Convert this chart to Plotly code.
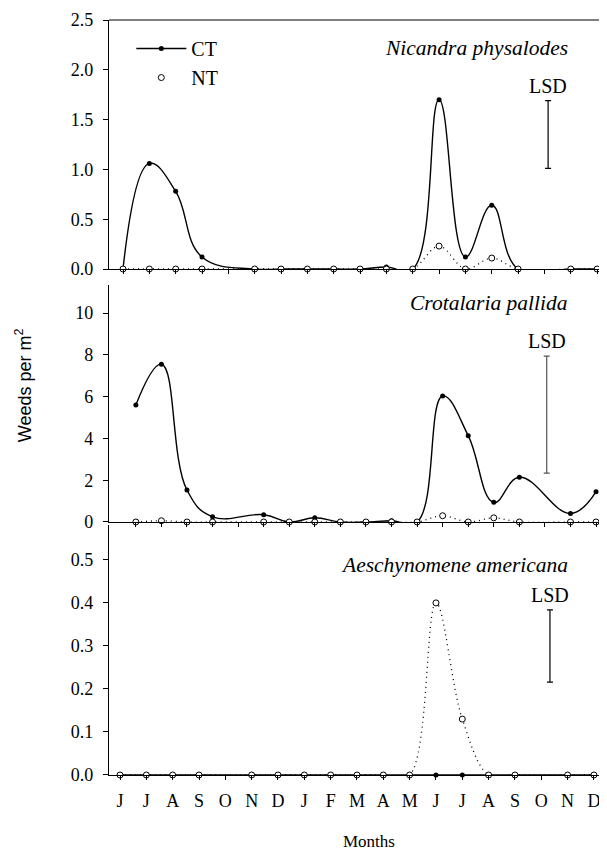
import plotly.graph_objects as go

months = ["J", "J", "A", "S", "O", "N", "D", "J", "F", "M", "A", "M",
          "J", "J", "A", "S", "O", "N", "D"]
# month positions that were sampled (October not sampled)
sample_idx = [0, 1, 2, 3, 5, 6, 7, 8, 9, 10, 11, 12, 13, 14, 15, 17, 18]

nic_ct = [0, 1.06, 0.78, 0.12, 0, 0, 0, 0, 0, 0.02, 0, 1.70, 0.12, 0.64, 0, 0, 0]
nic_nt = [0, 0, 0, 0, 0, 0, 0, 0, 0, 0, 0, 0.23, 0, 0.11, 0, 0, 0]

cro_ct = [5.6, 7.55, 1.53, 0.25, 0.35, 0, 0.2, 0, 0, 0.06, 0, 6.03, 4.13, 0.94, 2.14, 0.41, 1.45]
cro_nt = [0, 0.06, 0, 0, 0, 0, 0, 0, 0, 0, 0, 0.3, 0, 0.2, 0, 0, 0]

aes_ct = [0] * 17
aes_nt = [0, 0, 0, 0, 0, 0, 0, 0, 0, 0, 0, 0.40, 0.13, 0, 0, 0, 0]

species = ["Nicandra physalodes", "Crotalaria pallida", "Aeschynomene americana"]
lsd_x = [16.14, 16.07, 16.33]
lsd_lo = [1.01, 2.34, 0.216]
lsd_hi = [1.69, 7.94, 0.384]

SERIF = "Liberation Serif, Times New Roman, serif"
fig = go.Figure()

panels = [(nic_ct, nic_nt, "x", "y"), (cro_ct, cro_nt, "x2", "y2"), (aes_ct, aes_nt, "x3", "y3")]
for i, (ct, nt, xa, ya) in enumerate(panels):
    fig.add_trace(go.Scatter(
        x=sample_idx, y=ct, xaxis=xa, yaxis=ya, name="CT", mode="lines+markers",
        line=dict(color="black", width=1.4, shape="spline", smoothing=1.2),
        marker=dict(symbol="circle", size=5, color="black"),
        showlegend=(i == 0), cliponaxis=False))
    fig.add_trace(go.Scatter(
        x=sample_idx, y=nt, xaxis=xa, yaxis=ya, name="NT", mode="lines+markers",
        line=dict(color="black", width=1.3, dash="1px,4px", shape="spline", smoothing=1.0),
        marker=dict(symbol="circle", size=6, color="white", line=dict(color="black", width=1)),
        showlegend=False, cliponaxis=False))
    # LSD bar
    mid = (lsd_lo[i] + lsd_hi[i]) / 2
    half = (lsd_hi[i] - lsd_lo[i]) / 2
    fig.add_trace(go.Scatter(
        x=[lsd_x[i]], y=[mid], xaxis=xa, yaxis=ya, mode="markers",
        marker=dict(size=0.1, color="rgba(0,0,0,0)"),
        error_y=dict(type="data", array=[half], visible=True, thickness=1.2,
                     width=3, color="black" if i != 1 else "#555555"),
        showlegend=False, hoverinfo="skip"))
    fig.add_annotation(x=lsd_x[i], y=lsd_hi[i], xref=xa, yref=ya, text="LSD",
                       showarrow=False, yanchor="bottom", yshift=2,
                       font=dict(family=SERIF, size=20, color="black"))

# legend entry for NT (open circle only)
fig.add_trace(go.Scatter(x=[None], y=[None], name="NT", mode="markers",
                         marker=dict(symbol="circle", size=6, color="white",
                                     line=dict(color="black", width=1))))

tick_font = dict(family=SERIF, size=18, color="black")
common_y = dict(showline=True, linecolor="black", linewidth=1.2, ticks="outside",
                ticklen=5, tickcolor="black", showgrid=False, zeroline=False,
                tickfont=tick_font, ticklabelstandoff=6)
common_x = dict(showline=True, linecolor="black", linewidth=1.2, ticks="outside",
                ticklen=4, tickcolor="black", showgrid=False, zeroline=False,
                tickvals=list(range(19)))

# page body has an 8px margin: figure is sized so everything lands where the reference has it
fig.update_layout(
    width=599, height=843,
    margin=dict(l=101, r=2, t=12, b=76),
    paper_bgcolor="white", plot_bgcolor="white",
    showlegend=True,
    legend=dict(x=0.045, y=0.988, xanchor="left", yanchor="top", itemwidth=50,
                font=dict(family=SERIF, size=20, color="black"),
                bgcolor="rgba(0,0,0,0)", tracegroupgap=0),
    xaxis=dict(**common_x, range=[-0.532, 18.30], anchor="y", showticklabels=False),
    xaxis2=dict(**common_x, range=[-1.05, 18.35], anchor="y2", showticklabels=False),
    xaxis3=dict(**common_x, range=[-0.418, 18.42], anchor="y3", ticktext=months,
                tickfont=dict(family=SERIF, size=18, color="black"), ticklabelstandoff=5),
    yaxis=dict(**common_y, domain=[0.6702, 1.0], range=[0, 2.5], anchor="x",
               tickvals=[0, 0.5, 1.0, 1.5, 2.0, 2.5], tickformat=".1f"),
    yaxis2=dict(**common_y, domain=[0.3351, 0.649], range=[0, 11.34], anchor="x2",
                tickvals=[0, 2, 4, 6, 8, 10]),
    yaxis3=dict(**common_y, domain=[0, 0.3311], range=[0, 0.581], anchor="x3",
                tickvals=[0, 0.1, 0.2, 0.3, 0.4, 0.5], tickformat=".1f"),
)

# top frame line of the upper panel
fig.add_shape(type="line", xref="paper", yref="paper", x0=0, x1=1, y0=1, y1=1,
              line=dict(color="black", width=1))

title_y = [0.963, 0.625, 0.278]
for name, ty in zip(species, title_y):
    fig.add_annotation(x=0.929, y=ty, xref="paper", yref="paper", text=f"<i>{name}</i>",
                       showarrow=False, xanchor="right", yanchor="middle",
                       font=dict(family=SERIF, size=21.5, color="black"))

fig.add_annotation(x=0.524, y=-0.0887, xref="paper", yref="paper", text="Months",
                   showarrow=False, xanchor="center", yanchor="middle",
                   font=dict(family=SERIF, size=17, color="black"))
fig.add_annotation(x=-0.171, y=0.5166, xref="paper", yref="paper",
                   text="Weeds per m<sup>2</sup>", textangle=-90, showarrow=False,
                   xanchor="center", yanchor="middle",
                   font=dict(family="Liberation Sans", size=18, color="black"))

fig.write_html("out.html")
